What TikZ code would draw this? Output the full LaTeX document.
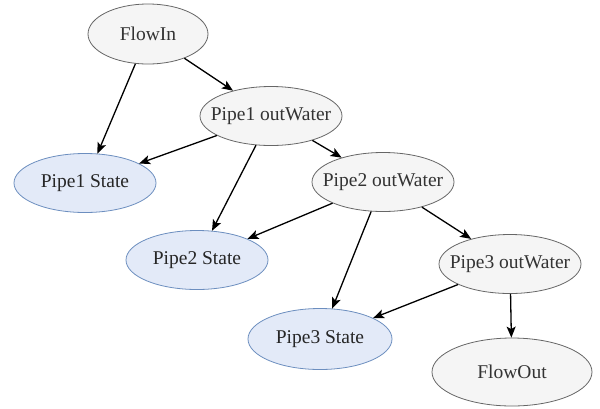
\documentclass[tikz,border=0pt]{standalone}
\usepackage{fontspec}
\setmainfont{Liberation Serif}
\usetikzlibrary{shapes.geometric,arrows.meta}
\definecolor{greyfill}{HTML}{F5F5F5}
\definecolor{greydraw}{HTML}{666666}
\definecolor{bluefill}{HTML}{E3EAF8}
\definecolor{bluedraw}{HTML}{6C8EBF}
\definecolor{greytext}{HTML}{333333}
\begin{document}
\begin{tikzpicture}[x=1pt,y=-1pt,
  base/.style={ellipse,inner sep=0pt,line width=0.8pt},
  glbl/.style={font=\fontsize{19.5}{22}\selectfont,text=greytext,inner sep=0pt},
  blbl/.style={font=\fontsize{19.5}{22}\selectfont,text=black!85,inner sep=0pt},
  grn/.style={base,draw=greydraw,fill=greyfill,minimum width=142pt,minimum height=59pt,label={[glbl]center:#1}},
  bln/.style={base,draw=bluedraw,fill=bluefill,minimum width=142pt,minimum height=59pt,label={[blbl]center:#1}},
  edge/.style={line width=1.3pt,-{Stealth[length=11pt,width=9pt,inset=2.5pt]}}]
\useasboundingbox (0,0) rectangle (600,408);
\node[grn=FlowIn,minimum width=120pt,minimum height=60pt] (flowin) at (148,34) {};
\node[grn=Pipe1 outWater] (p1o) at (271,116) {};
\node[bln=Pipe1 State] (p1s) at (85,183) {};
\node[grn=Pipe2 outWater] (p2o) at (383,182) {};
\node[bln=Pipe2 State] (p2s) at (197,260) {};
\node[grn=Pipe3 outWater] (p3o) at (510,264) {};
\node[bln=Pipe3 State,minimum width=144pt,minimum height=61pt] (p3s) at (320,339) {};
\node[grn=FlowOut,minimum width=160pt,minimum height=68pt] (flowout) at (512,372) {};
\draw[edge] (flowin) -- (p1s);
\draw[edge] (flowin) -- (p1o);
\draw[edge] (p1o) -- (p1s);
\draw[edge] (p1o) -- (p2s);
\draw[edge] (p1o) -- (p2o);
\draw[edge] (p2o) -- (p2s);
\draw[edge] (p2o) -- (p3s);
\draw[edge] (p2o) -- (p3o);
\draw[edge] (p3o) -- (p3s);
\draw[edge] (p3o) -- (flowout);
\end{tikzpicture}
\end{document}
